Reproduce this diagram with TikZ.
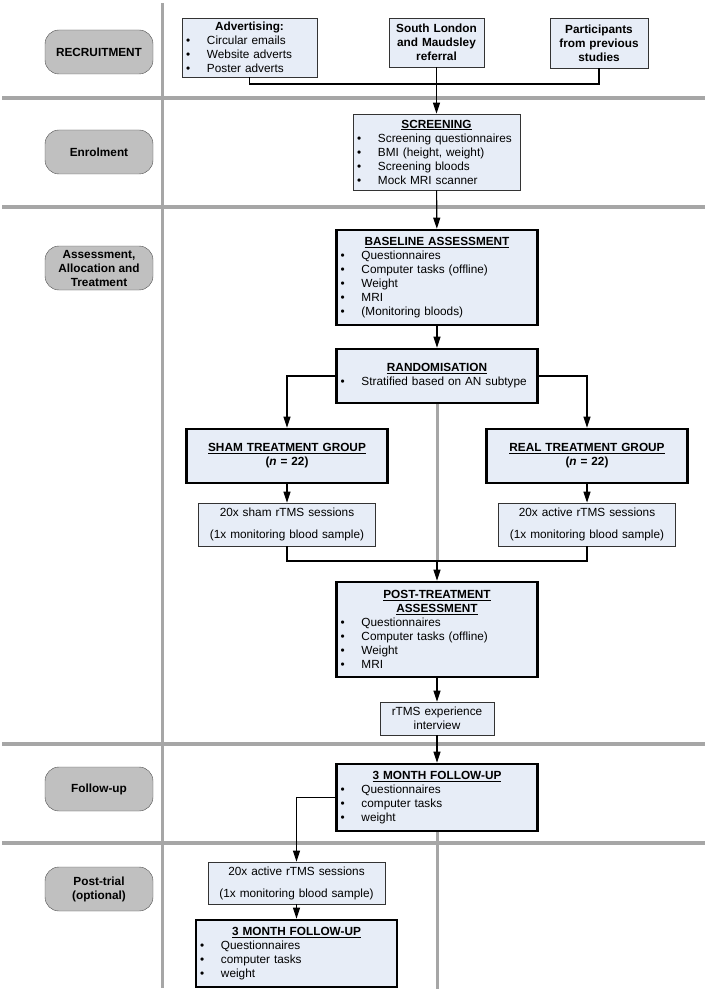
\documentclass[tikz,border=0pt]{standalone}
\usepackage{fontspec}
\setmainfont{Liberation Sans}
\usepackage{tikz}
\usetikzlibrary{calc,arrows.meta}
\definecolor{boxblue}{RGB}{231,237,247}
\definecolor{lanegray}{RGB}{192,192,192}
\newcommand{\ttl}[1]{\makebox[\linewidth]{\bfseries\underline{#1}}}
\newcommand{\hdr}[1]{\makebox[\linewidth]{\bfseries #1}}
\newcommand{\itm}[1]{\hspace*{4pt}\makebox[21pt][l]{\textbullet}#1}

\begin{document}
\begin{tikzpicture}[x=1pt,y=-1pt,
  font=\fontsize{11.8}{14}\selectfont,
  lane/.style={draw=black!70, fill=lanegray, rounded corners=14pt, minimum width=108, minimum height=44, inner sep=0pt, align=center, font=\fontsize{11.8}{14}\selectfont\bfseries},
  infobox/.style={draw=black!80, line width=0.8pt, fill=boxblue, inner xsep=0pt, inner ysep=2pt},
  mainbox/.style={infobox, draw=black, line width=2.6pt},
  arr/.style={-{Triangle[length=11pt,width=7pt]}, line width=1.1pt},
  conn/.style={line width=1.1pt},
  grid/.style={draw=black!35, line width=4pt}
]
\def\bw{201}
\useasboundingbox (0,0) rectangle (707,992);

%% lanes
\draw[grid] (2,98) -- (705,98);
\draw[grid] (2,207) -- (705,207);
\draw[grid] (2,744) -- (705,744);
\draw[grid] (2,843) -- (705,843);
\draw[grid, line width=3pt] (162,3) -- (162,988);

\node[lane] (rec) at (99,52) {RECRUITMENT};
\node[lane] (enr) at (99,152) {Enrolment};
\node[lane] (aat) at (99,268) {Assessment,\\Allocation and\\Treatment};
\node[lane] (fup) at (99,789) {Follow-up};
\node[lane] (ptl) at (99,889) {Post-trial\\(optional)};

%% recruitment and enrolment
\node[infobox, text width=135, minimum height=59, align=left] (adv) at (249.5,47.5) {\hdr{Advertising:}\\ \itm{Circular emails}\\ \itm{Website adverts}\\ \itm{Poster adverts}};
\node[infobox, text width=95, minimum height=49, align=center, font=\fontsize{11.8}{14}\selectfont\bfseries] (slam) at (436.5,42.5) {South London\\and Maudsley\\referral};
\node[infobox, text width=98, minimum height=50, align=center, font=\fontsize{11.8}{14}\selectfont\bfseries] (prev) at (599,43) {Participants\\from previous\\studies};
\node[infobox, text width=167, minimum height=76, align=left] (scr) at (436.5,152) {\ttl{SCREENING}\\ \itm{Screening questionnaires}\\ \itm{BMI (height, weight)}\\ \itm{Screening bloods}\\ \itm{Mock MRI scanner}};

%% trial
\node[mainbox, text width=\bw, minimum height=95, align=left] (base) at (437,277.5) {\ttl{BASELINE ASSESSMENT}\\ \itm{Questionnaires}\\ \itm{Computer tasks (offline)}\\ \itm{Weight}\\ \itm{MRI}\\ \itm{(Monitoring bloods)}};
\node[mainbox, text width=\bw, minimum height=54, align=left] (rand) at (437,376) {\ttl{RANDOMISATION}\\ \itm{Stratified based on AN subtype}};
\node[mainbox, text width=\bw, minimum height=54, align=center] (sham) at (287,456) {\ttl{SHAM TREATMENT GROUP}\\ \textbf{(\textit{n} = 22)}};
\node[mainbox, text width=\bw, minimum height=54, align=center] (real) at (587,456) {\ttl{REAL TREATMENT GROUP}\\ \textbf{(\textit{n} = 22)}};
\node[infobox, text width=177, minimum height=43, align=center] (shs) at (287,524.5) {20x sham rTMS sessions\\[8pt](1x monitoring blood sample)};
\node[infobox, text width=177, minimum height=43, align=center] (res) at (587,524.5) {20x active rTMS sessions\\[8pt](1x monitoring blood sample)};
\node[mainbox, text width=\bw, minimum height=95, align=left] (ptr) at (437,629.5) {\ttl{POST-TREATMENT}\\ \ttl{ASSESSMENT}\\ \itm{Questionnaires}\\ \itm{Computer tasks (offline)}\\ \itm{Weight}\\ \itm{MRI}};
\node[infobox, text width=114, minimum height=33, align=center] (intv) at (437,718.5) {rTMS experience\\interview};

%% follow-up
\node[mainbox, text width=\bw, minimum height=67, align=left] (fu) at (437,797.5) {\ttl{3 MONTH FOLLOW-UP}\\ \itm{Questionnaires}\\ \itm{computer tasks}\\ \itm{weight}};
\node[infobox, text width=177, minimum height=42, align=center] (pts) at (296.5,883) {20x active rTMS sessions\\[8pt](1x monitoring blood sample)};
\node[mainbox, text width=\bw, minimum height=67, align=left] (fut) at (296.5,953.5) {\ttl{3 MONTH FOLLOW-UP}\\ \itm{Questionnaires}\\ \itm{computer tasks}\\ \itm{weight}};

\coordinate (jn) at (436.5,84);
\coordinate (mrg) at (437,561);
\draw[grid, line width=3pt] (rand.south) -- (mrg);
\draw[grid, line width=3pt] (fu.south) -- ++(0,157);

\draw[conn] (adv.south) |- (jn) -| (prev.south);
\draw[arr] (slam) -- (scr);
\draw[arr] (scr) -- (base);
\draw[arr] (base) -- (rand);
\draw[arr] (rand.west) -| (sham.north);
\draw[arr] (rand.east) -| (real.north);
\draw[arr] (sham) -- (shs);
\draw[arr] (real) -- (res);
\draw[conn] (shs.south) |- (mrg) -| (res.south);
\draw[arr] (mrg) -- (ptr);
\draw[arr] (ptr) -- (intv);
\draw[arr] (intv) -- (fu);
\draw[arr] (fu.west) -| (pts.north);
\draw[arr] (pts) -- (fut);
\end{tikzpicture}
\end{document}
